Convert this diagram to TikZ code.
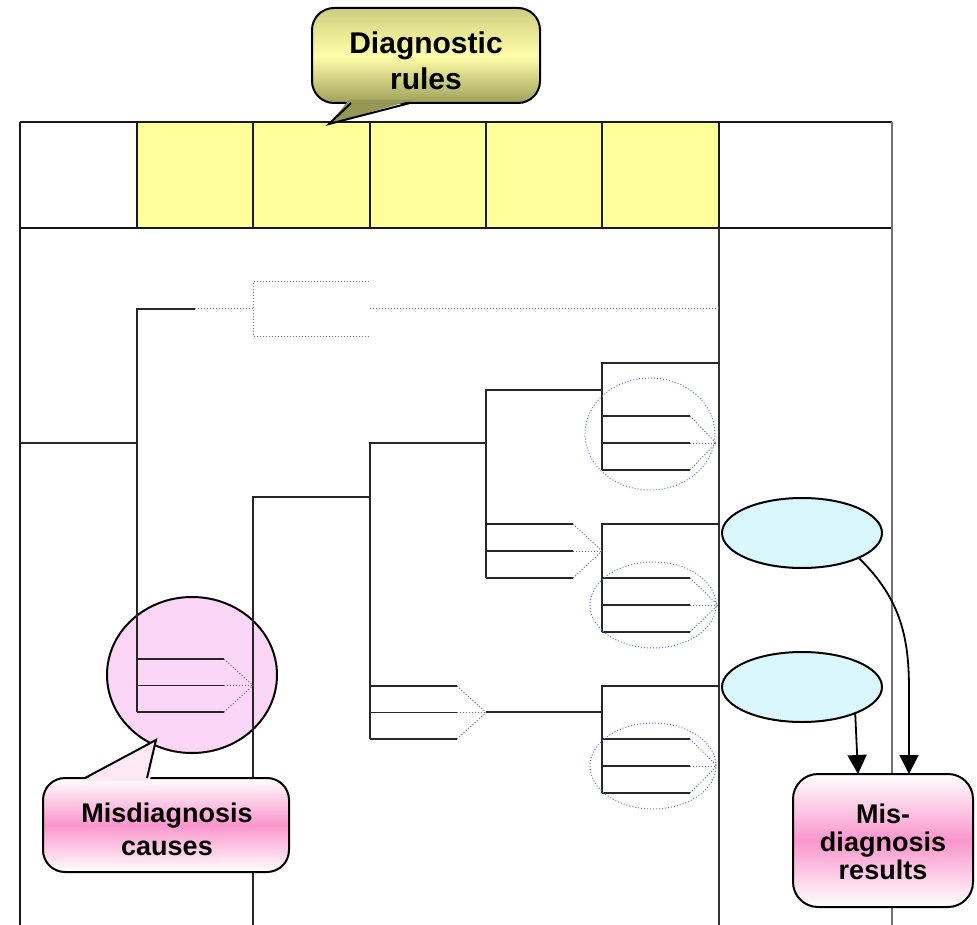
\documentclass[tikz,border=0pt]{standalone}
\usepackage{fontspec}
\setmainfont{Liberation Sans}
\usetikzlibrary{shapes.geometric,arrows.meta}
\definecolor{cellyellow}{RGB}{255,255,153}
\definecolor{pinkfill}{RGB}{251,214,246}
\definecolor{bluefill}{RGB}{218,247,253}
\definecolor{pinkmid}{RGB}{250,150,205}
\definecolor{pinktail}{RGB}{253,232,244}
\definecolor{olivetop}{RGB}{205,205,125}
\definecolor{olivemid}{RGB}{255,255,170}
\definecolor{olivebot}{RGB}{160,160,90}
\definecolor{olivetail}{RGB}{150,150,85}
\definecolor{dotblue}{RGB}{110,110,255}
\begin{document}
\begin{tikzpicture}[x=1pt,y=-1pt,
  grid/.style={line width=1.2pt,black!90},
  brk/.style={line width=1.2pt,black!85},
  dots/.style={line width=1pt,black!55,dotted},
  focus/.style={line width=1pt,dotblue,dotted},
  callbox/.style={draw,line width=2pt,rounded corners=22pt,inner sep=0pt},
  calltext/.style={align=center,inner sep=0pt,font=\bfseries\fontsize{27}{33}\selectfont},
  blueell/.style={ellipse,draw,line width=2pt,fill=bluefill,minimum width=160pt,minimum height=70pt,inner sep=0pt},
  bigarrow/.style={-{Triangle[width=19pt,length=19pt]},line width=1.8pt}]
\useasboundingbox (0,0) rectangle (977,925);
\fill[white] (0,0) rectangle (977,925);
% header cells
\fill[cellyellow] (137,122) rectangle (719,228);
% pink cause ellipse
\node[ellipse,draw,line width=2pt,fill=pinkfill,minimum width=170pt,minimum height=156pt,inner sep=0pt] (cause) at (192,675) {};
% table grid
\draw[grid] (20,122) -- (892,122);
\draw[grid] (20,228) -- (892,228);
\draw[grid] (20,122) -- (20,925);
\foreach \x in {137,253,370,486,602} \draw[grid] (\x,122) -- (\x,228);
\draw[grid] (719,122) -- (719,228);
\draw[line width=1.8pt,black!80] (719,228) -- (719,925);
\draw[line width=1.5pt,black!55] (892,122) -- (892,925);
% tree lines
\draw[brk] (20,443) -- (137,443);
\draw[brk] (195,309) -- (137,309) -- (137,712);
\draw[dots] (195,309) -- (253,309);
\draw[dots] (369,282) -- (253,282) -- (253,336) -- (369,336);
\draw[dots] (370,309) -- (719,309);
\draw[brk] (253,925) -- (253,497) -- (370,497);
\draw[brk] (370,739) -- (370,443) -- (486,443);
\draw[brk] (486,578) -- (486,390) -- (602,390);
\draw[brk] (602,470) -- (602,363) -- (719,363);
\draw[brk] (602,632) -- (602,524) -- (719,524);
\draw[brk] (602,793) -- (602,686) -- (719,686);
\draw[brk] (486,712) -- (602,712);
% forks: x0, first y, spacing, solid end, apex x
\foreach \xo/\yo/\dy/\xs/\xa in {602/416/27/690/716, 486/524/27/573/602, 602/578/27/690/718, 370/686/26.5/457/486, 602/739/27/690/717, 137/659/26.5/224/253}{
  \foreach \k in {0,1,2}{
    \draw[brk] (\xo,\yo+\k*\dy) -- (\xs,\yo+\k*\dy);
    \draw[dots] (\xs,\yo+\k*\dy) -- (\xa,\yo+\dy);
  }
}
% dotted focus ellipses
\draw[focus] (650,434) ellipse [x radius=65pt, y radius=56pt];
\draw[focus] (653,605) ellipse [x radius=63pt, y radius=43pt];
\draw[focus] (653,766) ellipse [x radius=63pt, y radius=43pt];
% result ellipses
\node[blueell] (e1) at (802,533) {};
\node[blueell] (e2) at (802,687) {};
% callout: diagnostic rules
\node[callbox,minimum width=228pt,minimum height=95pt,top color=olivetop,bottom color=olivebot,middle color=olivemid] (rules) at (426,55.5) {};
\fill[olivetail] (349,100) -- (329,124) -- (413,100) -- cycle;
\draw[line width=2pt,line join=miter] (351,103) -- (329,124) -- (410,103);
\node[calltext,font=\bfseries\fontsize{30}{36}\selectfont] (rulest) at (426,61) {Diagnostic\\rules};
% callout: misdiagnosis causes
\node[callbox,minimum width=246pt,minimum height=94pt,top color=white,bottom color=white,middle color=pinkmid] (causes) at (166,825) {};
\fill[pinktail] (82,781) -- (156,740) -- (150,781) -- cycle;
\draw[line width=2pt,line join=miter] (85,778) -- (156,740) -- (147,778);
\node[calltext] (causest) at (167,829) {Misdiagnosis\\causes};
% result box
\node[callbox,rounded corners=25pt,minimum width=180pt,minimum height=133pt,top color=white,bottom color=white,middle color=pinkmid] (res) at (883,840.5) {};
\node[calltext,font=\bfseries\fontsize{27}{28}\selectfont] (rest) at (883,842) {Mis-\\diagnosis\\results};
\coordinate (r1) at (858,774);
\coordinate (r2) at (909,774);
\draw[bigarrow] (e1.-24) .. controls (902,600) and (909,640) .. (909,690) -- (r2);
\draw[bigarrow] (e2.-27) -- (r1);
\end{tikzpicture}
\end{document}
